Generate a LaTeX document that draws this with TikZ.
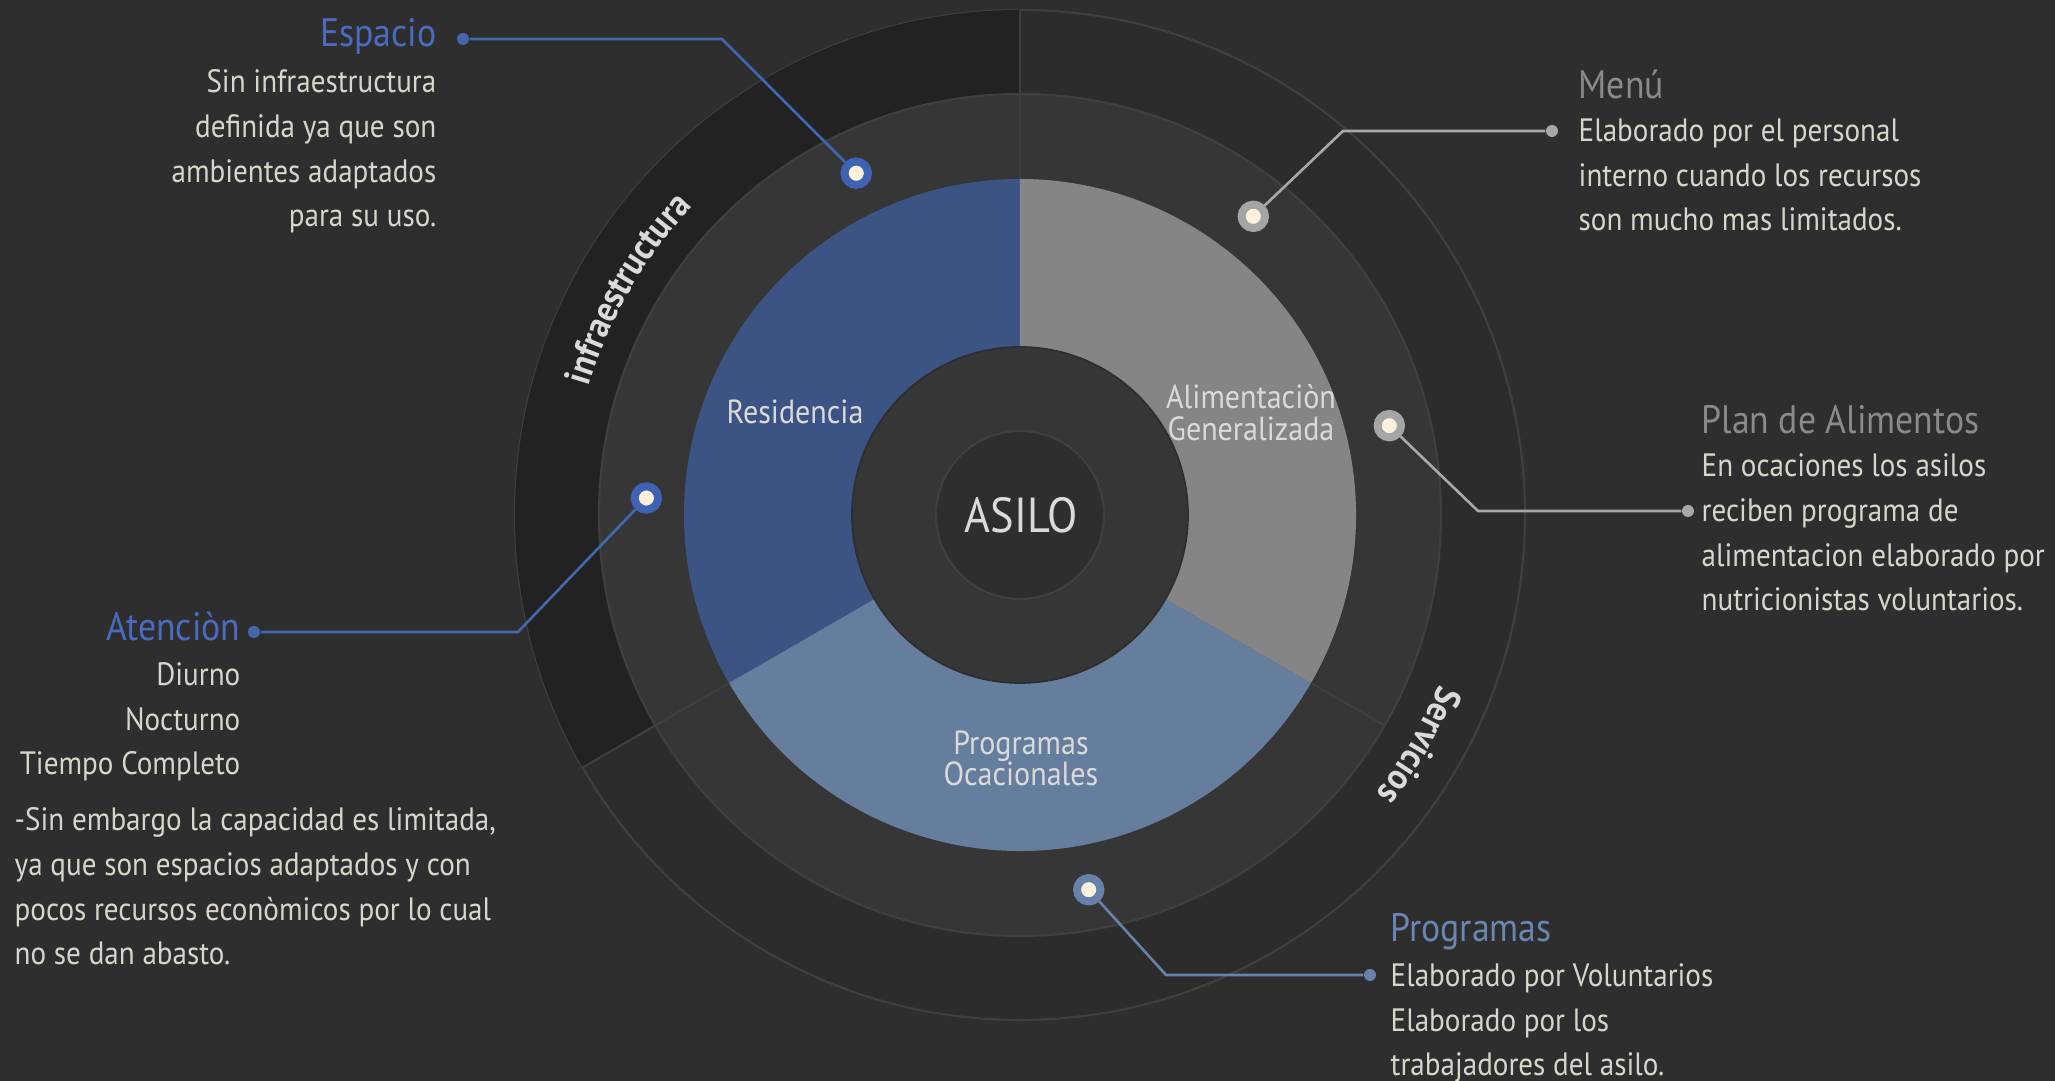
\documentclass[tikz,border=0pt]{standalone}
\usepackage{fontspec}
\setmainfont{PT Sans}[FakeStretch=0.9]
\usetikzlibrary{decorations.text}

\definecolor{fondo}{HTML}{2E2E2E}
\definecolor{banda}{HTML}{2C2C2C}
\definecolor{bandaosc}{HTML}{222222}
\definecolor{anillo}{HTML}{363636}
\definecolor{filo}{HTML}{3F3F3F}
\definecolor{azul}{HTML}{3C5484}
\definecolor{acero}{HTML}{657E9E}
\definecolor{gris}{HTML}{858585}
\definecolor{crema}{HTML}{FDF1DC}
\definecolor{texto}{HTML}{D9D5CA}
\definecolor{rotulo}{HTML}{DADADA}
\definecolor{azultit}{HTML}{4A6CC0}
\definecolor{azullinea}{HTML}{4466AA}
\definecolor{azulmarca}{HTML}{3F63B3}
\definecolor{grislinea}{HTML}{A8A8A8}
\definecolor{grismarca}{HTML}{A5A5A5}
\definecolor{gristit}{HTML}{8A8A8A}
\definecolor{acerolinea}{HTML}{6682AA}
\definecolor{aceromarca}{HTML}{6682AA}
\definecolor{acerotit}{HTML}{6A86B2}

\newcommand\rotulofont{\fontsize{10.5}{12}\selectfont\bfseries}

\begin{document}
\begin{tikzpicture}[
	marca/.style={circle,fill=crema,draw=#1,line width=0.8mm,minimum size=2.34mm,inner sep=0pt},
	punta/.style={circle,fill=#1,minimum size=1.2mm,inner sep=0pt},
	linea/.style={draw=#1,line width=0.75pt},
	titulo/.style={font=\fontsize{11.3}{13}\selectfont,inner sep=0pt},
	cuerpo/.style={font=\fontsize{9.2}{12.72}\selectfont,text=texto,inner sep=0pt},
	sector/.style={font=\fontsize{9.5}{9.1}\selectfont,text=rotulo,align=center,inner sep=0pt}]
	%\draw[step=1cm,very thin,color=gray] (-10,-5) grid (10,5);
	\fill[fondo] (-10.20,-5.66) rectangle (10.35,5.15);
	\useasboundingbox (-10.20,-5.66) rectangle (10.35,5.15);

	% anillo exterior, franja de infraestructura y anillo medio
	\filldraw[fill=banda,draw=filo,line width=0.6pt] (0,0) circle (5.05);
	\fill[bandaosc] (90:5.05) arc (90:210:5.05) -- (210:4.21) arc (210:90:4.21) -- cycle;
	\filldraw[fill=anillo,draw=filo,line width=0.6pt] (0,0) circle (4.21);

	% sectores
	\fill[azul] (0,0) -- (90:3.36) arc (90:210:3.36) -- cycle;
	\fill[acero] (0,0) -- (210:3.36) arc (210:330:3.36) -- cycle;
	\fill[gris] (0,0) -- (330:3.36) arc (330:450:3.36) -- cycle;
	\foreach \a/\r in {90/5.05,210/5.05,330/4.21}
		\draw[filo,line width=0.6pt] (\a:3.36) -- (\a:\r);

	% centro
	\filldraw[fill=anillo,draw=fondo,line width=0.5pt] (0,0) circle (1.68);
	\filldraw[fill=fondo,draw=filo,line width=0.6pt] (0,0) circle (0.84);
	\node[font=\fontsize{14}{16}\selectfont,text=rotulo,anchor=base,inner sep=0pt] (asilo) at (0.01,-0.18) {ASILO};

	% (base = linea de abajo)
	\node[sector,anchor=base] (residencia) at (-2.25,0.91) {Residencia};
	\node[sector,anchor=base] (alimentacion) at (2.31,0.74) {Alimentaciòn\\Generalizada};
	\node[sector,anchor=base] (programas) at (0.01,-2.71) {Programas\\Ocacionales};

	% rotulos curvos
	\path[decorate,decoration={text along path,text align=center,text color=rotulo,
		text={|\rotulofont|infraestructura}}] (165:4.50) arc (165:135:4.50);
	\path[decorate,decoration={text along path,text align=center,text color=rotulo,
		text={|\rotulofont|Servicios}}] (-15:4.52) arc (-15:-45:4.52);

	% marcas sobre el anillo medio
	\node[marca=azulmarca] (m-espacio) at (115.6:3.79) {};
	\node[marca=azulmarca] (m-atencion) at (177.4:3.74) {};
	\node[marca=grismarca] (m-menu) at (52:3.79) {};
	\node[marca=grismarca] (m-plan) at (13.6:3.80) {};
	\node[marca=aceromarca] (m-prog) at (-79.6:3.81) {};

	\coordinate (c-espacio) at (-2.98,4.76);
	\coordinate (c-atencion) at (-5.02,-1.17);
	\coordinate (c-menu) at (3.23,3.84);
	\coordinate (c-plan) at (4.58,0.04);
	\coordinate (c-prog) at (1.46,-4.60);

	\node[punta=azullinea] (p-espacio) at (-5.57,4.76) {};
	\node[punta=azullinea] (p-atencion) at (-7.66,-1.17) {};
	\node[punta=grislinea] (p-menu) at (5.32,3.84) {};
	\node[punta=grislinea] (p-plan) at (6.68,0.04) {};
	\node[punta=acerolinea] (p-prog) at (3.50,-4.60) {};

	\draw[linea=azullinea] (m-espacio) -- (c-espacio) -- (p-espacio);
	\draw[linea=azullinea] (m-atencion) -- (c-atencion) -- (p-atencion);
	\draw[linea=grislinea] (m-menu) -- (c-menu) -- (p-menu);
	\draw[linea=grislinea] (m-plan) -- (c-plan) -- (p-plan);
	\draw[linea=acerolinea] (m-prog) -- (c-prog) -- (p-prog);

	% textos (bloques anclados en la base de su ultima linea)
	\node[titulo,text=azultit,anchor=base east] (t-espacio) at (-5.83,4.68) {Espacio};
	\node[cuerpo,align=right,anchor=base east] (d-espacio) at (-5.83,2.88) {Sin infraestructura\\definida ya que son\\ambientes adaptados\\para su uso.};

	\node[titulo,text=azultit,anchor=base east] (t-atencion) at (-7.79,-1.26) {Atenciòn};
	\node[cuerpo,align=right,anchor=base east] (d-atencion) at (-7.79,-2.60) {Diurno\\Nocturno\\Tiempo Completo};
	\node[cuerpo,align=left,anchor=base west] (n-atencion) at (-10.06,-4.50) {-Sin embargo la capacidad es limitada,\\ya que son espacios adaptados y con\\pocos recursos econòmicos por lo cual\\no se dan abasto.};

	\node[titulo,text=gristit,anchor=base west] (t-menu) at (5.58,4.16) {Menú};
	\node[cuerpo,align=left,anchor=base west] (d-menu) at (5.58,2.84) {Elaborado por el personal\\interno cuando los recursos\\son mucho mas limitados.};

	\node[titulo,text=gristit,anchor=base west] (t-plan) at (6.81,0.81) {Plan de Alimentos};
	\node[cuerpo,align=left,anchor=base west] (d-plan) at (6.81,-0.96) {En ocaciones los asilos\\reciben programa de\\alimentacion elaborado por\\nutricionistas voluntarios.};

	\node[titulo,text=acerotit,anchor=base west] (t-prog) at (3.70,-4.27) {Programas};
	\node[cuerpo,align=left,anchor=base west] (d-prog) at (3.70,-5.61) {Elaborado por Voluntarios\\Elaborado por los\\trabajadores del asilo.};
\end{tikzpicture}
\end{document}
